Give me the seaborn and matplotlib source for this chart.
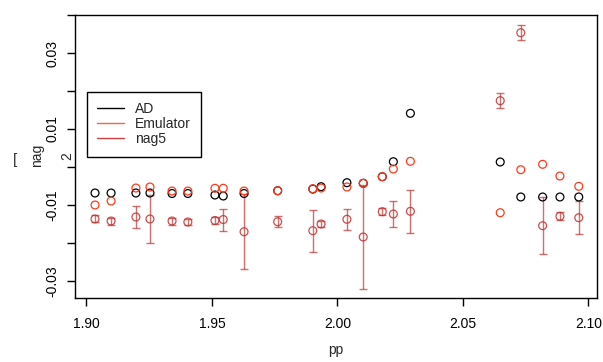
import matplotlib
matplotlib.use("Agg")
import matplotlib.pyplot as plt
from matplotlib.lines import Line2D
import numpy as np
import pandas as pd
import seaborn as sns

# ---- data ----
pp = [1.9034, 1.9098, 1.9197, 1.9253, 1.9341, 1.9404, 1.9512, 1.9545,
      1.9628, 1.9762, 1.9902, 1.9935, 2.0038, 2.0103, 2.0179, 2.0223,
      2.0291, 2.0649, 2.0731, 2.0818, 2.0887, 2.0962]
ad = [-0.00684, -0.00684, -0.00684, -0.00684, -0.00697, -0.00697, -0.00737, -0.00763,
      -0.00697, -0.00624, -0.00580, -0.00518, -0.00413, -0.00429, -0.00255, 0.00139,
      0.01413, 0.00132, -0.00789, -0.00789, -0.00789, -0.00789]
emulator = [-0.01000, -0.00895, -0.00553, -0.00526, -0.00632, -0.00632, -0.00560, -0.00560,
            -0.00632, -0.00624, -0.00571, -0.00553, -0.00526, -0.00429, -0.00255, -0.00053,
            0.00150, -0.01203, -0.00071, 0.00071, -0.00237, -0.00508]
nag5 = [-0.01368, -0.01421, -0.01316, -0.01368, -0.01421, -0.01447, -0.01408, -0.01382,
        -0.01703, -0.01440, -0.01676, -0.01500, -0.01376, -0.01842, -0.01176, -0.01237,
        -0.01166, 0.01745, 0.03534, -0.01545, -0.01297, -0.01334]
nag5_err = [0.00092, 0.00092, 0.00290, 0.00630, 0.00092, 0.00092, 0.00092, 0.00290,
            0.00987, 0.00140, 0.00550, 0.00090, 0.00284, 0.01370, 0.00097, 0.00340,
            0.00570, 0.00205, 0.00200, 0.00755, 0.00110, 0.00440]

xticks = [1.90, 1.95, 2.00, 2.05, 2.10]
xtick_labels = ["1.90", "1.95", "2.00", "2.05", "2.10"]
yticks = [-0.03, -0.02, -0.01, 0.00, 0.01, 0.02, 0.03, 0.04]
ytick_labels = ["-0.03", "", "-0.01", "", "0.01", "", "0.03", ""]
series_names = ["AD", "Emulator", "nag5"]

c_ad = "#000000"
c_emu = "#FF3A1A"
c_nag = "#C0302E"
c_emu_leg = "#FF6040"
c_nag_leg = "#D04040"

sns.set_style("ticks")
plt.rcParams["font.family"] = ["Liberation Sans", "DejaVu Sans"]
plt.rcParams["font.size"] = 10

fig = plt.figure(figsize=(6.03, 3.62), dpi=100)
ax = fig.add_axes([75 / 603, 1 - 298 / 362, 522 / 603, 283 / 362])

df = pd.DataFrame({"pp": pp, "AD": ad, "Emulator": emulator, "nag5": nag5, "err": nag5_err})

ms = 32
lw = 0.9
sns.scatterplot(data=df, x="pp", y="AD", ax=ax, marker="o", s=ms,
                facecolor="none", edgecolor=c_ad, linewidth=lw, zorder=3)
sns.scatterplot(data=df, x="pp", y="Emulator", ax=ax, marker="o", s=ms,
                facecolor="none", edgecolor=c_emu, linewidth=lw, zorder=4)
ax.errorbar(df["pp"], df["nag5"], yerr=df["err"], fmt="none", ecolor=c_nag,
            alpha=0.7, elinewidth=1.0, capsize=3.0, capthick=1.0, zorder=2)
sns.scatterplot(data=df, x="pp", y="nag5", ax=ax, marker="o", s=ms,
                facecolor="none", edgecolor=c_nag, linewidth=lw, alpha=0.85, zorder=5)

ax.set_xlim(1.89542, 2.10347)
ax.set_ylim(-0.03447, 0.04)
ax.set_xticks(xticks)
ax.set_xticklabels(xtick_labels)
ax.set_yticks(yticks)
ax.set_yticklabels(ytick_labels, rotation=90, va="center")
ax.tick_params(axis="both", direction="out", length=6, width=1.0, colors="#000000",
               labelsize=10)
ax.tick_params(axis="x", pad=8)
ax.tick_params(axis="y", pad=5)
for s in ax.spines.values():
    s.set_visible(True)
    s.set_linewidth(1.0)
    s.set_color("#000000")

ax.set_xlabel("pp", fontsize=10, labelpad=8)
ax.set_ylabel("")
fig.text(15 / 603, 1 - 160 / 362, "[", fontsize=11, ha="center", va="center")
fig.text(37 / 603, 1 - 155 / 362, "nag", fontsize=10, rotation=90, ha="center", va="center")
fig.text(67 / 603, 1 - 156 / 362, "2", fontsize=10, rotation=90, ha="center", va="center")

handles = [Line2D([], [], color=c_ad, lw=1.0),
           Line2D([], [], color=c_emu_leg, lw=1.0),
           Line2D([], [], color=c_nag_leg, lw=1.0)]
leg = ax.legend(handles, series_names, loc="upper left",
                bbox_to_anchor=((86.7 - 75) / 522, (298 - 91.7) / 283),
                borderaxespad=0, frameon=True, fancybox=False, edgecolor="#000000",
                framealpha=1, fontsize=10, handlelength=1.9, handletextpad=0.8,
                labelspacing=0.08, borderpad=0.75)
leg.get_frame().set_linewidth(1.0)

fig.savefig("out.png", dpi=100)
